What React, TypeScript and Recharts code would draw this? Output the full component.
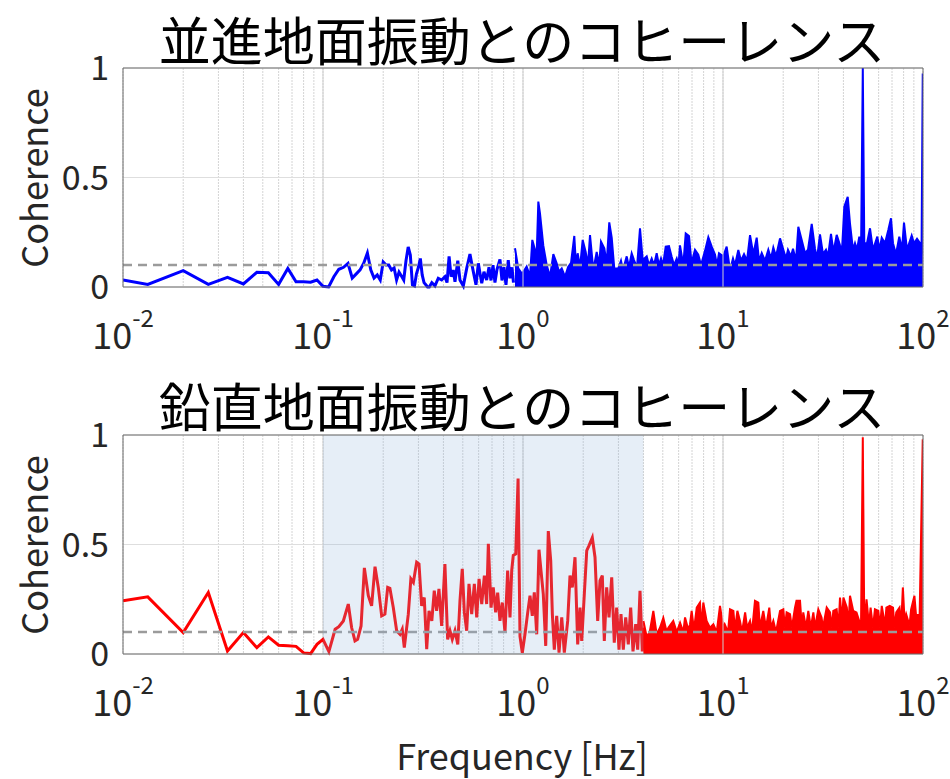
import React from "react";
import {
  ComposedChart,
  Line,
  Area,
  XAxis,
  YAxis,
  CartesianGrid,
  ReferenceLine,
  ReferenceArea,
} from "recharts";

const FONT = '"Noto Sans CJK JP", "Noto Sans", sans-serif';
const TEXT = "#262626";

// 並進 (translational) — sparse low-frequency trace, Hz / coherence
const transLineFreq = [
  0.01, 0.0133, 0.02, 0.0267, 0.0333, 0.04, 0.0467, 0.0533, 0.06, 0.0667,
  0.0733, 0.08, 0.0867, 0.0933, 0.1, 0.1067, 0.1133, 0.12, 0.1267, 0.1333,
  0.14, 0.1467, 0.1533, 0.16, 0.1667, 0.1733, 0.18, 0.1867, 0.1933, 0.2,
  0.2067, 0.2133, 0.22, 0.2267, 0.2333, 0.24, 0.2467, 0.2533, 0.26, 0.2667,
  0.2733, 0.28, 0.2867, 0.2933, 0.3, 0.3067, 0.3133, 0.32, 0.3267, 0.3333,
  0.34, 0.35, 0.363, 0.377, 0.392, 0.407, 0.417, 0.427, 0.437, 0.448,
  0.457, 0.472, 0.484, 0.503, 0.523, 0.543, 0.558, 0.571, 0.582, 0.598,
  0.61, 0.622, 0.638, 0.658, 0.676, 0.692, 0.708, 0.724, 0.741, 0.767,
  0.785, 0.803, 0.822, 0.844, 0.861, 0.881, 0.896,
];
const transLineCoh = [
  0.032, 0.012, 0.075, 0.012, 0.044, 0.014, 0.067, 0.065, 0.012, 0.085,
  0.024, 0.024, 0.022, 0.032, 0.003, 0, 0.047, 0.081, 0.09, 0.108,
  0.041, 0.06, 0.078, 0.11, 0.155, 0.078, 0.041, 0.055, 0.032, 0.114,
  0.1, 0.1, 0.078, 0.087, 0.032, 0.068, 0.05, 0.032, 0.12, 0.183,
  0.146, 0.01, 0.005, 0.06, 0.09, 0.13, 0.055, 0.02, 0.01, 0,
  0, 0.02, 0.005, 0.04, 0.032, 0.047, 0.02, 0.14, 0.047, 0.078,
  0.024, 0.12, 0.032, 0.005, 0.085, 0.15, 0.093, 0.047, 0.01, 0.108,
  0.06, 0.017, 0.07, 0.032, 0.09, 0.03, 0.1, 0.02, 0.08, 0.126,
  0.03, 0.09, 0.01, 0.123, 0.04, 0.09, 0.02,
];

// 並進 — dense part above ~0.9 Hz, peak envelope
const transBandFreq = [
  0.912, 0.947, 0.989, 1.043, 1.084, 1.113, 1.148, 1.168, 1.193, 1.216,
  1.263, 1.314, 1.365, 1.418, 1.474, 1.514, 1.562, 1.622, 1.679, 1.738,
  1.805, 1.841, 1.877, 1.928, 1.988, 2.058, 2.113, 2.163, 2.247, 2.336,
  2.399, 2.455, 2.55, 2.62, 2.7, 2.777, 2.86, 2.996, 3.09, 3.162,
  3.3, 3.388, 3.495, 3.589, 3.715, 3.846, 3.968, 4.155, 4.266, 4.4,
  4.519, 4.66, 4.786, 4.898, 5.012, 5.17, 5.37, 5.54, 5.69, 5.87,
  5.99, 6.095, 6.33, 6.51, 6.76, 6.96, 7.244, 7.525, 7.762, 8.128,
  8.445, 8.78, 9.12, 9.333, 9.55, 10.03, 10.43, 10.84, 11.22, 11.48,
  11.93, 12.3, 12.74, 13.18, 13.65, 14.18, 14.74, 15.14, 15.62, 16.22,
  16.85, 17.38, 17.85, 18.41, 19.28, 20.03, 20.65, 21.13, 21.88, 22.39,
  23.17, 23.8, 24.75, 25.7, 26.6, 27.77, 28.84, 29.51, 30.55, 31.62,
  32.73, 33.5, 34.67, 35.68, 37.02, 38.46, 39.36, 40.42, 42.03, 43.15,
  44.67, 45.71, 46.77, 48.03, 48.98, 50, 50.87, 52.48, 54.33, 56.23,
  59.1, 60.6, 62.2, 64.57, 67.07, 69.18, 70.79, 73.28, 76.1, 78.52,
  80.35, 83.18, 87.8, 90.16, 93.33, 96.6, 98.3, 99.7,
];
const transBandCoh = [
  0.177, 0.085, 0.06, 0.093, 0.05, 0.215, 0.17, 0.12, 0.39, 0.336,
  0.19, 0.1, 0.047, 0.15, 0.108, 0.07, 0.085, 0.047, 0.09, 0.11,
  0.233, 0.1, 0.154, 0.09, 0.215, 0.16, 0.1, 0.237, 0.078, 0.16,
  0.1, 0.207, 0.177, 0.108, 0.295, 0.225, 0.085, 0.085, 0.12, 0.078,
  0.14, 0.09, 0.154, 0.123, 0.09, 0.268, 0.123, 0.14, 0.1, 0.13,
  0.1, 0.154, 0.1, 0.13, 0.1, 0.184, 0.187, 0.138, 0.1, 0.13,
  0.1, 0.19, 0.1, 0.245, 0.233, 0.11, 0.17, 0.148, 0.1, 0.165,
  0.227, 0.184, 0.148, 0.1, 0.154, 0.14, 0.184, 0.078, 0.13, 0.1,
  0.169, 0.12, 0.15, 0.12, 0.237, 0.15, 0.225, 0.12, 0.155, 0.12,
  0.17, 0.13, 0.18, 0.14, 0.222, 0.17, 0.13, 0.17, 0.14, 0.175,
  0.12, 0.275, 0.215, 0.155, 0.17, 0.288, 0.175, 0.13, 0.24, 0.15,
  0.17, 0.14, 0.243, 0.16, 0.238, 0.19, 0.17, 0.367, 0.412, 0.29,
  0.17, 0.2, 0.17, 0.23, 0.15, 1.0, 0.2, 0.2, 0.268, 0.17,
  0.23, 0.17, 0.225, 0.2, 0.26, 0.314, 0.2, 0.15, 0.23, 0.17,
  0.294, 0.17, 0.235, 0.2, 0.22, 0.2, 0.15, 0.975,
];

// 鉛直 (vertical) — trace up to 4 Hz
const vertLineFreq = [
  0.01, 0.0133, 0.02, 0.0267, 0.0333, 0.04, 0.0467, 0.0533, 0.06, 0.0667,
  0.0733, 0.08, 0.0867, 0.0933, 0.1, 0.107, 0.115, 0.12, 0.1264, 0.1338,
  0.139, 0.1445, 0.149, 0.155, 0.161, 0.1685, 0.175, 0.182, 0.189, 0.1965,
  0.204, 0.2106, 0.216, 0.2246, 0.2335, 0.2427, 0.249, 0.255, 0.267, 0.275,
  0.283, 0.294, 0.302, 0.3114, 0.3208, 0.33, 0.339, 0.35, 0.36, 0.37,
  0.38, 0.392, 0.407, 0.42, 0.4315, 0.443, 0.457, 0.472, 0.484, 0.497,
  0.509, 0.523, 0.537, 0.554, 0.571, 0.587, 0.603, 0.622, 0.641, 0.658,
  0.671, 0.692, 0.71, 0.73, 0.747, 0.767, 0.788, 0.813, 0.838, 0.861,
  0.878, 0.894, 0.92, 0.945, 0.966, 0.992, 1.023, 1.056, 1.084, 1.113,
  1.139, 1.171, 1.202, 1.23, 1.263, 1.299, 1.338, 1.376, 1.402, 1.434,
  1.474, 1.514, 1.562, 1.609, 1.673, 1.718, 1.764, 1.82, 1.877, 1.928,
  1.966, 2.026, 2.083, 2.138, 2.221, 2.291, 2.363, 2.427, 2.492, 2.55,
  2.62, 2.692, 2.777, 2.86, 2.94, 3.02, 3.09, 3.173, 3.262, 3.361,
  3.455, 3.548, 3.66, 3.745, 3.846, 3.95, 4.0,
];
const vertLineCoh = [
  0.243, 0.261, 0.098, 0.281, 0.014, 0.098, 0.029, 0.078, 0.04, 0.038,
  0.035, 0.005, 0.002, 0.044, 0.067, 0.011, 0.113, 0.125, 0.151, 0.228,
  0.121, 0.06, 0.067, 0.128, 0.393, 0.266, 0.22, 0.399, 0.304, 0.174,
  0.182, 0.304, 0.3, 0.212, 0.106, 0.09, 0.113, 0.029, 0.182, 0.343,
  0.327, 0.419, 0.411, 0.22, 0.258, 0.022, 0.197, 0.151, 0.289, 0.197,
  0.297, 0.128, 0.411, 0.067, 0.106, 0.067, 0.106, 0.044, 0.243, 0.389,
  0.19, 0.106, 0.32, 0.182, 0.32, 0.167, 0.343, 0.228, 0.358, 0.228,
  0.503, 0.212, 0.304, 0.19, 0.28, 0.151, 0.235, 0.098, 0.381, 0.167,
  0.381, 0.45, 0.457, 0.801, 0.08, 0.006, 0.09, 0.19, 0.266, 0.174,
  0.281, 0.09, 0.476, 0.381, 0.274, 0.037, 0.561, 0.427, 0.182, 0.02,
  0.174, 0.006, 0.167, 0.006, 0.151, 0.358, 0.304, 0.442, 0.044, 0.212,
  0.06, 0.274, 0.472, 0.495, 0.531, 0.442, 0.151, 0.335, 0.358, 0.06,
  0.304, 0.167, 0.35, 0.052, 0.212, 0.02, 0.182, 0.02, 0.167, 0.044,
  0.212, 0.012, 0.136, 0.02, 0.289, 0.012, 0.12,
];

// 鉛直 — dense part from 4 Hz, peak envelope
const vertBandFreq = [
  4.0, 4.15, 4.3, 4.484, 4.66, 4.84, 5.03, 5.23, 5.33, 5.64,
  5.87, 6.1, 6.33, 6.46, 6.71, 6.84, 6.97, 7.16, 7.39, 7.67,
  7.82, 7.97, 8.28, 8.61, 8.95, 9.3, 9.66, 10.03, 10.2, 10.6,
  10.84, 11.27, 11.48, 11.8, 12.16, 12.45, 12.9, 13.2, 13.65, 13.96,
  14.45, 15.02, 15.3, 15.9, 16.4, 17.04, 17.38, 17.85, 18.41, 19.28,
  20.03, 20.4, 20.8, 21.63, 22.1, 22.9, 23.3, 24.27, 24.8, 25.2,
  26.0, 26.7, 27.5, 28.3, 28.84, 29.96, 31.1, 31.6, 33.0, 34.3,
  35.0, 35.6, 37.0, 37.8, 38.46, 39.36, 40.0, 41.6, 42.4, 43.15,
  44.8, 46.5, 48.0, 48.98, 50, 50.87, 52.2, 53.7, 54.7, 56.2,
  57.5, 59.8, 60.95, 62.2, 64.6, 65.6, 68.2, 70.8, 72.1, 73.5,
  76.3, 77.8, 79.3, 80.9, 82.4, 85.6, 87.2, 90.6, 92.8, 94.3,
  96.1, 99.7,
];
const vertBandCoh = [
  0.151, 0.08, 0.1, 0.197, 0.09, 0.12, 0.165, 0.1, 0.12, 0.151,
  0.1, 0.143, 0.1, 0.167, 0.11, 0.136, 0.197, 0.11, 0.212, 0.235,
  0.12, 0.235, 0.151, 0.12, 0.136, 0.1, 0.22, 0.12, 0.136, 0.1,
  0.204, 0.197, 0.11, 0.197, 0.151, 0.1, 0.19, 0.12, 0.151, 0.1,
  0.243, 0.235, 0.12, 0.197, 0.12, 0.212, 0.12, 0.151, 0.1, 0.197,
  0.204, 0.12, 0.19, 0.182, 0.12, 0.212, 0.243, 0.243, 0.12, 0.19,
  0.12, 0.197, 0.12, 0.19, 0.12, 0.204, 0.167, 0.12, 0.212, 0.19,
  0.12, 0.197, 0.204, 0.12, 0.258, 0.15, 0.258, 0.212, 0.13, 0.266,
  0.197, 0.19, 0.151, 0.12, 0.99, 0.12, 0.25, 0.13, 0.212, 0.12,
  0.204, 0.197, 0.12, 0.22, 0.13, 0.212, 0.22, 0.212, 0.12, 0.19,
  0.212, 0.13, 0.304, 0.15, 0.182, 0.13, 0.204, 0.266, 0.15, 0.182,
  0.15, 0.98,
];

const titles = ["並進地面振動とのコヒーレンス", "鉛直地面振動とのコヒーレンス"];
const yLabel = "Coherence";
const xLabel = "Frequency [Hz]";
const decades = [0.01, 0.1, 1, 10, 100];
const yTicks = [0, 0.5, 1];
const threshold = 0.1;
const shadeRange = [0.1, 4];

// every 1..9 x 10^n line for the log grid
const gridTicks = decades
  .slice(0, -1)
  .flatMap((d) => [1, 2, 3, 4, 5, 6, 7, 8, 9].map((k) => Number((k * d).toPrecision(3))))
  .concat(100);

const rows = (f: number[], c: number[]) => f.map((x, i) => ({ f: x, c: c[i] }));

const DecadeTick = (props: any) => {
  const { x, y, payload } = props;
  const p = Math.log10(payload.value);
  const n = Math.round(p);
  if (Math.abs(p - n) > 1e-6) return <g />;
  return (
    <text x={x} y={y + 62} textAnchor="middle" fontFamily={FONT} fill={TEXT}>
      <tspan fontSize={36}>10</tspan>
      <tspan fontSize={24} dy={-22}>
        {String(n)}
      </tspan>
    </text>
  );
};

interface PanelProps {
  lineData: { f: number; c: number }[];
  bandData: { f: number; c: number }[];
  color: string;
  top: number;
  shaded?: boolean;
}

// plot box is 219 px tall in both panels; the svg keeps 100 px below it for tick labels
function Panel({ lineData, bandData, color, top, shaded }: PanelProps) {
  return (
    <ComposedChart width={950} height={top + 219 + 100} margin={{ top, right: 27, bottom: 30, left: 0 }}>
      <CartesianGrid horizontal={false} stroke="#d4d4d4" strokeDasharray="2 1" />
      <CartesianGrid vertical={false} stroke="#dedede" />
      <XAxis
        dataKey="f"
        type="number"
        scale="log"
        domain={[0.01, 100]}
        allowDataOverflow
        ticks={gridTicks}
        interval={0}
        height={70}
        tickLine={false}
        axisLine={false}
        tickSize={0}
        tickMargin={0}
        tick={<DecadeTick />}
      />
      <YAxis
        type="number"
        domain={[0, 1]}
        ticks={yTicks}
        width={123}
        tickLine={false}
        axisLine={false}
        tickSize={0}
        tickMargin={14}
        tick={{ fontSize: 34, fill: TEXT, fontFamily: FONT }}
      />
      {decades.slice(1, -1).map((d) => (
        <ReferenceLine key={d} x={d} stroke="#cfcfcf" strokeWidth={1} />
      ))}
      <Area
        data={bandData}
        dataKey="c"
        type="linear"
        stroke={color}
        strokeWidth={2}
        fill={color}
        fillOpacity={1}
        isAnimationActive={false}
        dot={false}
        activeDot={false}
      />
      <Line
        data={lineData}
        dataKey="c"
        type="linear"
        stroke={color}
        strokeWidth={3}
        dot={false}
        activeDot={false}
        isAnimationActive={false}
      />
      <ReferenceLine
        y={threshold}
        stroke="#9b9b9b"
        strokeWidth={2.5}
        strokeDasharray="9 6"
        zIndex={450}
      />
      {shaded && (
        <ReferenceArea
          x1={shadeRange[0]}
          x2={shadeRange[1]}
          y1={0}
          y2={1}
          fill="#8fb2dc"
          fillOpacity={0.22}
          stroke="none"
          zIndex={460}
        />
      )}
      <ReferenceArea
        x1={0.01}
        x2={100}
        y1={0}
        y2={1}
        fill="none"
        stroke="#6a6a6a"
        strokeWidth={1}
        zIndex={470}
      />
    </ComposedChart>
  );
}

export default function App() {
  return (
    <div style={{ position: "absolute", left: 0, top: 0, width: 950, height: 779, background: "#fff", overflow: "hidden" }}>
      <div style={{ position: "absolute", left: 0, top: 0 }}>
        <Panel
          lineData={rows(transLineFreq, transLineCoh)}
          bandData={rows(transBandFreq, transBandCoh)}
          color="#0000ff"
          top={68}
        />
      </div>
      <div style={{ position: "absolute", left: 0, top: 360 }}>
        <Panel
          lineData={rows(vertLineFreq, vertLineCoh)}
          bandData={rows(vertBandFreq, vertBandCoh)}
          color="#ff0000"
          top={75}
          shaded
        />
      </div>
      <svg
        width={950}
        height={779}
        style={{ position: "absolute", left: 0, top: 0, pointerEvents: "none" }}
      >
        <g fontFamily={FONT} fill="#000" fontSize={52}>
          <text x={522} y={38} textAnchor="middle" dominantBaseline="central">
            {titles[0]}
          </text>
          <text x={522} y={404} textAnchor="middle" dominantBaseline="central">
            {titles[1]}
          </text>
        </g>
        <g fontFamily={FONT} fill={TEXT} fontSize={36}>
          <text
            x={32}
            y={178}
            textAnchor="middle"
            dominantBaseline="central"
            transform="rotate(-90 32 178)"
          >
            {yLabel}
          </text>
          <text
            x={32}
            y={545}
            textAnchor="middle"
            dominantBaseline="central"
            transform="rotate(-90 32 545)"
          >
            {yLabel}
          </text>
          <text x={522} y={754} textAnchor="middle" dominantBaseline="central">
            {xLabel}
          </text>
        </g>
      </svg>
    </div>
  );
}
